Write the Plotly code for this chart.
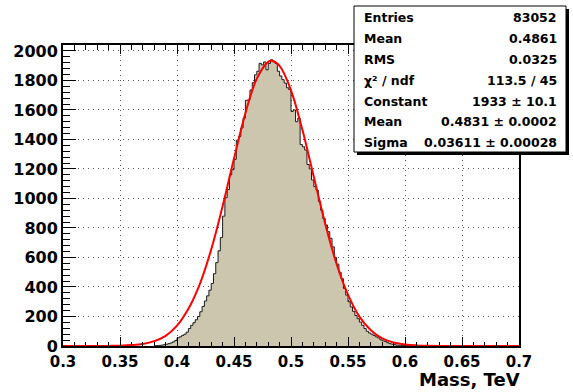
import plotly.graph_objects as go

# ---------------- data ----------------
bin_start = 0.380
bin_width = 0.002
counts = [2, 3, 4, 6, 9, 12, 16, 21, 28, 38,
          55, 62, 72, 80, 94, 118, 140, 158, 178, 200,
          232, 268, 305, 340, 378, 424, 490, 565, 645, 735,
          880, 1005, 1060, 1160, 1195, 1265, 1395, 1420, 1478, 1545,
          1665, 1668, 1735, 1785, 1838, 1862, 1916, 1905, 1925, 1872,
          1915, 1940, 1930, 1915, 1862, 1830, 1805, 1782, 1750, 1738,
          1590, 1600, 1520, 1545, 1365, 1350, 1328, 1230, 1200, 1125,
          1080, 1056, 980, 920, 864, 820, 775, 730, 672, 600,
          555, 500, 456, 390, 345, 300, 265, 235, 207, 185,
          162, 140, 118, 100, 88, 80, 71, 62, 55, 42,
          35, 30, 22, 16, 12, 9, 6, 5, 4, 3,
          2, 2, 1]

fit_x = [0.30, 0.32, 0.34, 0.35, 0.36, 0.37, 0.38, 0.39, 0.40, 0.41,
         0.42, 0.43, 0.44, 0.45, 0.46, 0.47, 0.48, 0.483, 0.49, 0.50,
         0.51, 0.52, 0.53, 0.54, 0.55, 0.56, 0.57, 0.58, 0.59, 0.60,
         0.61, 0.62, 0.64, 0.66, 0.70]
fit_y = [0, 0.1, 0.8, 2, 6, 14, 33, 69, 138, 252,
         420, 654, 947, 1270, 1578, 1812, 1926, 1933, 1899, 1733,
         1465, 1147, 829, 556, 348, 199, 107, 52, 24, 10,
         4, 1.5, 0.2, 0, 0]

x_tick_vals = [0.30, 0.35, 0.40, 0.45, 0.50, 0.55, 0.60, 0.65, 0.70]
x_tick_text = ["0.3", "0.35", "0.4", "0.45", "0.5", "0.55", "0.6", "0.65", "0.7"]
y_tick_vals = [0, 200, 400, 600, 800, 1000, 1200, 1400, 1600, 1800, 2000]
y_tick_text = ["0", "200", "400", "600", "800", "1000", "1200", "1400", "1600", "1800", "2000"]

stat_labels = ["Entries", "Mean", "RMS", "χ² / ndf", "Constant", "Mean", "Sigma"]
stat_values = ["83052", "0.4861", "0.0325", "113.5 / 45",
               "1933 ± 10.1", "0.4831 ± 0.0002", "0.03611 ± 0.00028"]

x_title = "Mass, TeV"

# ---------------- layout constants ----------------
W, H = 573, 392
ML, MR, MT, MB = 63, 54, 45, 46
PW, PH = W - ML - MR, H - MT - MB
FONT = "DejaVu Sans"


def px(xp):
    return (xp - ML) / PW


def py(yp):
    return (H - MB - yp) / PH


edges = [bin_start + i * bin_width for i in range(len(counts) + 1)]
step_y = counts + [counts[-1]]

fig = go.Figure()
fig.add_trace(go.Scatter(
    x=edges, y=step_y, mode="lines", line_shape="hv",
    line=dict(color="#1a1a1a", width=1),
    fill="tozeroy", fillcolor="#ccc6ae", hoverinfo="skip", showlegend=False))
fig.add_trace(go.Scatter(
    x=fit_x, y=fit_y, mode="lines", line_shape="spline",
    line=dict(color="#ff0000", width=2), hoverinfo="skip", showlegend=False))

axis_common = dict(
    showline=True, linecolor="black", linewidth=2,
    ticks="inside", tickcolor="black", tickwidth=1,
    showgrid=True, gridcolor="#555555", gridwidth=1, griddash="1px,4px",
    zeroline=False,
)

fig.update_xaxes(
    range=[0.3, 0.7], tickmode="array", tickvals=x_tick_vals, ticktext=x_tick_text,
    ticklen=9, mirror="ticks", ticklabelstandoff=1,
    minor=dict(dtick=0.01, tick0=0.3, ticklen=4.5, ticks="inside", tickcolor="black", showgrid=False),
    tickfont=dict(family=FONT, size=15, color="black", weight="bold"),
    **axis_common)
fig.update_yaxes(
    range=[0, 2040], tickmode="array", tickvals=y_tick_vals, ticktext=y_tick_text,
    ticklen=13, mirror=True,
    minor=dict(dtick=40, tick0=0, ticklen=6.5, ticks="inside", tickcolor="black", showgrid=False),
    tickfont=dict(family=FONT, size=16, color="black", weight="bold"),
    **axis_common)

shapes = [
    # stats box shadow
    dict(type="rect", xref="paper", yref="paper",
         x0=px(357), x1=px(569), y0=py(155), y1=py(9),
         fillcolor="black", line=dict(width=0), layer="above"),
    dict(type="rect", xref="paper", yref="paper",
         x0=px(354), x1=px(566), y0=py(152), y1=py(6),
         fillcolor="white", line=dict(color="black", width=1), layer="above"),
]

annotations = []
row_y = [17.3, 38.5, 59.3, 80.3, 101, 121.7, 142.3]
for lab, val, ry in zip(stat_labels, stat_values, row_y):
    annotations.append(dict(
        xref="paper", yref="paper", x=px(362), y=py(ry),
        xanchor="left", yanchor="middle", text=lab, showarrow=False,
        font=dict(family=FONT, size=12.5, color="black", weight="bold")))
    annotations.append(dict(
        xref="paper", yref="paper", x=px(559), y=py(ry),
        xanchor="right", yanchor="middle", text=val, showarrow=False,
        font=dict(family=FONT, size=12.5, color="black", weight="bold")))

annotations.append(dict(
    xref="paper", yref="paper", x=px(522), y=py(391.8),
    xanchor="right", yanchor="bottom", text=x_title, showarrow=False,
    font=dict(family=FONT, size=18, color="black", weight="bold")))

fig.update_layout(
    width=W, height=H,
    margin=dict(l=ML, r=MR, t=MT, b=MB),
    paper_bgcolor="white", plot_bgcolor="white",
    shapes=shapes, annotations=annotations,
    showlegend=False,
)

fig.write_html("out.html")
